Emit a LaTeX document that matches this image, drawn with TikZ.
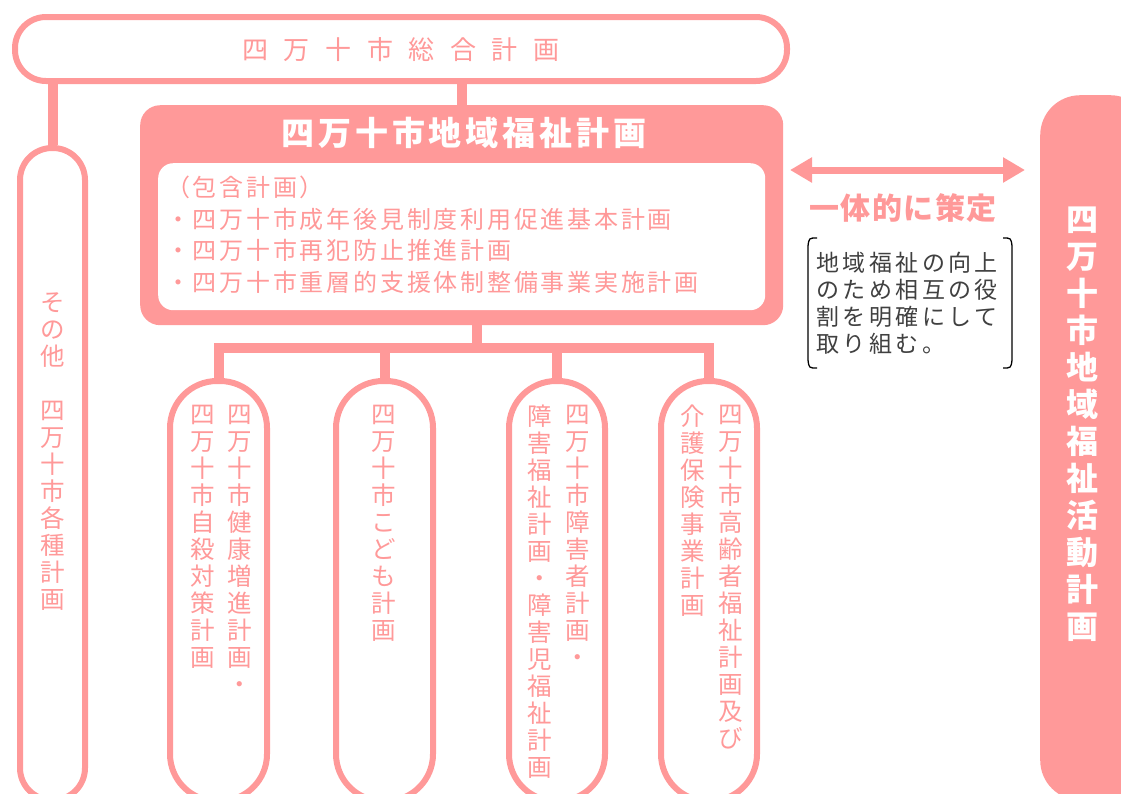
\documentclass[tikz,border=0pt]{standalone}
\usepackage{fontspec}
\newfontfamily\jp{Noto Sans CJK JP}
\usetikzlibrary{arrows.meta}
\definecolor{pk}{HTML}{FF9999}
\definecolor{dk}{HTML}{404040}
\begin{document}
\begin{tikzpicture}[x=1pt,y=-1pt,
  frame/.style={draw=pk, line width=6pt, fill=white, inner sep=0pt},
  conn/.style={draw=pk, line width=10pt, line join=miter},
  vt/.style={text=pk, align=center, inner sep=0pt, anchor=north, font=\jp\fontsize{24.5}{27}\selectfont},
  listtxt/.style={text=pk, align=left, inner sep=0pt, anchor=north west, font={\jp\fontsize{24}{31.5}\selectfont\addfontfeature{LetterSpace=11.5}}},
  notetxt/.style={text=dk, align=left, inner sep=0pt, anchor=north west, font={\jp\fontsize{23}{27}\selectfont\addfontfeature{LetterSpace=15}}},
  bigw/.style={text=white, inner sep=0pt, font={\jp\bfseries\fontsize{33}{36}\selectfont\addfontfeature{LetterSpace=12}}},
  brk/.style={draw=black, line width=1.3pt}
]
\useasboundingbox (0,0) rectangle (1121,793);
\clip (0,0) rectangle (1121,793);

% top banner
\node[frame, rounded corners=31pt, minimum width=772pt, minimum height=64pt] (banner) at (401,49) {};
\node[text=pk, inner sep=0pt, font={\jp\fontsize{26}{28}\selectfont\addfontfeature{LetterSpace=60}}] (bannertxt) at (401,50) {四万十市総合計画};

% main plan box
\node[fill=pk, rounded corners=20pt, minimum width=643pt, minimum height=220pt, inner sep=0pt, anchor=north west] (main) at (140,105) {};
\node[bigw] (maintitle) at (464,133) {四万十市地域福祉計画};
\node[fill=white, rounded corners=15pt, minimum width=607pt, minimum height=147pt, inner sep=0pt, anchor=north west] (inner) at (158,163) {};
\node[listtxt] (list) at (166,176) {（包含計画）\\・四万十市成年後見制度利用促進基本計画\\・四万十市再犯防止推進計画\\・四万十市重層的支援体制整備事業実施計画};

% left column
\node[frame, rounded corners=32pt, minimum width=65pt, minimum height=652pt, anchor=north] (left) at (52.5,145) {};
\node[vt] (lefttxt) at (53,292) {そ\\の\\他\\　\\四\\万\\十\\市\\各\\種\\計\\画};

% lower columns
\node[frame, rounded corners=47pt, minimum width=97pt, minimum height=420pt, anchor=north] (c2) at (218.5,378) {};
\node[frame, rounded corners=47pt, minimum width=97pt, minimum height=420pt, anchor=north] (c3) at (384.5,378) {};
\node[frame, rounded corners=47pt, minimum width=96pt, minimum height=420pt, anchor=north] (c4) at (557,378) {};
\node[frame, rounded corners=47pt, minimum width=96pt, minimum height=420pt, anchor=north] (c5) at (709,378) {};

\node[vt] (c2a) at (240,405) {四\\万\\十\\市\\健\\康\\増\\進\\計\\画\\・};
\node[vt] (c2b) at (203,405) {四\\万\\十\\市\\自\\殺\\対\\策\\計\\画};
\node[vt] (c3a) at (384,405) {四\\万\\十\\市\\こ\\ど\\も\\計\\画};
\node[vt] (c4a) at (578,405) {四\\万\\十\\市\\障\\害\\者\\計\\画\\・};
\node[vt] (c4b) at (540,405) {障\\害\\福\\祉\\計\\画\\・\\障\\害\\児\\福\\祉\\計\\画};
\node[vt] (c5a) at (731,405) {四\\万\\十\\市\\高\\齢\\者\\福\\祉\\計\\画\\及\\び};
\node[vt] (c5b) at (693,405) {介\\護\\保\\険\\事\\業\\計\\画};

% connectors
\draw[conn] (main.north) -- (main.north |- banner.south);
\draw[conn] (left.north) -- (left.north |- banner.south);
\coordinate (bus) at (477,348);
\draw[conn] (bus |- main.south) -- (bus);
\draw[conn] (c2.north) -- (c2.north |- bus) -- (c5.north |- bus) -- (c5.north);
\draw[conn] (c3.north) -- (c3.north |- bus);
\draw[conn] (c4.north) -- (c4.north |- bus);

% right activity plan pill
\node[fill=pk, rounded corners=40pt, minimum width=110pt, minimum height=705pt, inner sep=0pt, anchor=north west] (act) at (1040,95) {};
\node[text=white, align=center, inner sep=0pt, anchor=north, font={\jp\bfseries\fontsize{32}{37}\selectfont}] (acttxt) at (1082,207) {四\\万\\十\\市\\地\\域\\福\\祉\\活\\動\\計\\画};

% double arrow
\coordinate (arrL) at (790,170);
\coordinate (arrR) at (1025,170);
\draw[draw=pk, line width=7pt, {Triangle[length=22pt,width=24pt]}-{Triangle[length=22pt,width=24pt]}, color=pk] (arrL) -- (arrR);
\node[text=pk, inner sep=0pt, font={\jp\bfseries\fontsize{30}{32}\selectfont\addfontfeature{LetterSpace=5}}] (joint) at (903,208) {一体的に策定};

% bracketed note
\node[notetxt] (note) at (816,252) {地域福祉の向上\\のため相互の役\\割を明確にして\\取り組む。};
\coordinate (bl) at (808,238);
\coordinate (br) at (1012,238);
\draw[brk] ([xshift=9pt]bl) .. controls ([xshift=1pt]bl) .. ([yshift=-8pt]bl) -- ([yshift=-122pt]bl) .. controls ([yshift=-130pt,xshift=1pt]bl) .. ([yshift=-130pt,xshift=9pt]bl);
\draw[brk] ([xshift=-9pt]br) .. controls ([xshift=-1pt]br) .. ([yshift=-8pt]br) -- ([yshift=-122pt]br) .. controls ([yshift=-130pt,xshift=-1pt]br) .. ([yshift=-130pt,xshift=-9pt]br);
\end{tikzpicture}
\end{document}
